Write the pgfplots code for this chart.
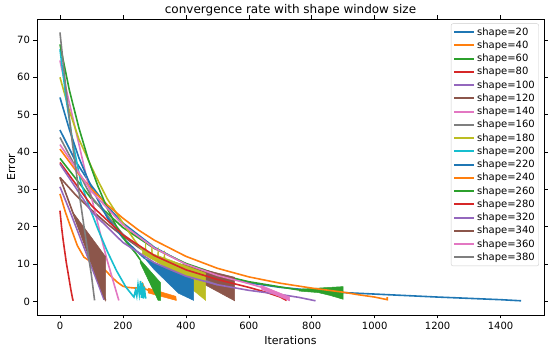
\documentclass[border=0pt]{standalone}
\usepackage{pgfplots}
\pgfplotsset{compat=1.18}
\usepackage{fontspec}
\setmainfont{DejaVu Sans}
\definecolor{C0}{HTML}{1F77B4}
\definecolor{C1}{HTML}{FF7F0E}
\definecolor{C2}{HTML}{2CA02C}
\definecolor{C3}{HTML}{D62728}
\definecolor{C4}{HTML}{9467BD}
\definecolor{C5}{HTML}{8C564B}
\definecolor{C6}{HTML}{E377C2}
\definecolor{C7}{HTML}{7F7F7F}
\definecolor{C8}{HTML}{BCBD22}
\definecolor{C9}{HTML}{17BECF}
\begin{document}
\begin{tikzpicture}
\path[use as bounding box] (0,0) rectangle (550pt,348pt);
\begin{axis}[
  at={(37pt,33pt)}, anchor=south west,
  scale only axis, width=507pt, height=296pt,
  xmin=-73, xmax=1538, ymin=-3.6, ymax=75.6,
  xtick={0,200,...,1400}, ytick={0,10,...,70},
  tick align=outside, major tick length=3.5pt,
  tick style={black, line width=0.6pt},
  axis line style={line width=0.7pt},
  tick label style={font=\fontsize{10}{12}\selectfont},
  /pgf/number format/assume math mode=true,
  /pgf/number format/set thousands separator={},
  title={convergence rate with shape window size},
  title style={font=\fontsize{12}{14}\selectfont, yshift=-7pt},
  xlabel={Iterations}, ylabel={Error},
  ylabel shift=-5pt,
  label style={font=\fontsize{11}{13}\selectfont},
  every axis plot/.append style={line width=1.6pt},
  legend cell align=left,
  legend image code/.code={\draw[#1, line width=2pt] (0pt,0pt) -- (20pt,0pt);},
  legend style={at={(0.99,0.985)}, anchor=north east, draw=black!20, rounded corners=2pt,
    font=\fontsize{10}{11}\selectfont, row sep=0.15pt, inner sep=2pt},
]
% shape=20
\addplot[C0] coordinates {(0,45.9) (50,37.5) (100,31) (150,25.5) (200,21) (300,14.5) (400,10) (500,7) (600,5) (700,3.8) (800,3.0) (900,2.4) (1000,2.0) (1100,1.6) (1200,1.2) (1300,0.85) (1400,0.5) (1465,0.2)};
\addlegendentry{shape=20}
% shape=40
\addplot[C1] coordinates {(0,28.8) (17,24) (34,19.9) (55,15) (76,11.9) (110,10) (145,8.3) (165,6.5) (182,5.2) (200,4.1) (214,3.8) (240,3.6) (255,3.8) (262,4.8) (270,3.4) (290,2.7) (320,2) (345,1.3) (368,0.5)};
\addlegendentry{shape=40}
\addplot[C1, fill=C1, line width=0.5pt, forget plot] coordinates {(280,3.6) (368,1.4) (370,0.3) (280,2.3)} -- cycle;
% shape=60
\addplot[C2] coordinates {(0,38.3) (100,27.5) (200,19.8) (300,14.2) (400,10.2) (500,7.3) (600,5.3) (700,3.9) (760,3.1) (830,2.8) (900,2.2)};
\addlegendentry{shape=60}
\addplot[C2, fill=C2, line width=0.5pt, forget plot] coordinates {(760,3.3) (820,3.6) (900,4.0) (900,0.6) (860,1.6) (820,2.4) (760,2.8)} -- cycle;
% shape=80
\addplot[C3] coordinates {(0,24.3) (5,20) (10,16.5) (15,13.5) (20,10.5) (25,8) (30,5.5) (35,3) (40,0.8) (42,0.2)};
\addlegendentry{shape=80}
% shape=100
\addplot[C4] coordinates {(0,30.7) (30,24.5) (60,18) (90,11.5) (120,5) (140,0.5)};
\addlegendentry{shape=100}
% shape=120
\addplot[C5] coordinates {(0,33.2) (50,28.5) (100,24.5) (150,20.8) (200,17.5) (250,14.5) (300,11.8)};
\addlegendentry{shape=120}
\addplot[C5, fill=C5, line width=0.5pt, forget plot] coordinates {(300,11.8) (555,6.5) (555,0.2)} -- cycle;
% shape=140
\addplot[C6] coordinates {(0,64.5) (22,56) (44,48) (66,40) (88,32) (110,24.5) (130,17.5) (150,11) (170,5.2) (187,0.3)};
\addlegendentry{shape=140}
% shape=160
\addplot[C7] coordinates {(0,43.9) (100,28) (200,18) (300,11.5) (400,7.5) (500,4.5)};
\addlegendentry{shape=160}
% shape=180
\addplot[C8] coordinates {(0,60) (30,51) (60,43.5) (100,36) (123,32) (150,27.5) (200,21) (240,16) (262,13.8)};
\addlegendentry{shape=180}
\addplot[C8, fill=C8, line width=0.5pt, forget plot] coordinates {(262,13.8) (270,13.5) (272,16) (274,13.3) (290,12.9) (292,15.5) (294,12.8) (310,12.3) (312,14.6) (314,12.2) (330,11.7) (332,13.6) (334,11.6) (463,7.6) (463,0.3) (330,9.5) (262,12.8)} -- cycle;
% shape=200
\addplot[C9] coordinates {(0,67.5) (20,54) (40,43) (66,32) (90,26) (120,19.5) (150,13.5) (180,8.2) (210,3.8) (235,1.2) (240,3) (244,1.5) (248,4.5) (252,2) (256,5.5) (259,1) (262,5) (265,0.8) (268,4) (271,1.5) (273,0.8)};
\addlegendentry{shape=200}
% shape=220
\addplot[C0] coordinates {(0,54.6) (30,46) (60,38.5) (100,30.5) (150,22.5) (200,17) (250,13) (270,11.5)};
\addlegendentry{shape=220}
\addplot[C0, fill=C0, line width=0.5pt, forget plot] coordinates {(270,11.5) (350,8.3) (425,5.8) (425,0.3) (377,2.2) (300,8.5)} -- cycle;
% shape=240
\addplot[C1] coordinates {(0,40.8) (50,35.1) (100,30.1) (150,25.9) (200,22.3) (250,19.1) (300,16.4) (400,12.1) (500,8.9) (600,6.6) (700,4.9) (800,3.6) (900,2.5) (950,1.8) (1000,1.2) (1040,0.5) (1040,1.2)};
\addlegendentry{shape=240}
% shape=260
\addplot[C2] coordinates {(0,68.8) (30,56.5) (60,46.5) (90,38) (120,31) (150,25) (180,20) (210,16) (240,13) (255,11.2)};
\addlegendentry{shape=260}
\addplot[C2, fill=C2, line width=0.5pt, forget plot] coordinates {(255,11.2) (320,5) (320,0.3) (312,0.3) (255,10.3)} -- cycle;
% shape=280
\addplot[C3] coordinates {(0,37.2) (100,25.7) (200,17.8) (300,12.3) (400,8.5) (500,5.9) (600,3.8) (650,2.6) (700,1.2) (720,0.3)};
\addlegendentry{shape=280}
% shape=320
\addplot[C4] coordinates {(0,36.8) (100,24.1) (200,15.8) (300,10.4) (400,6.8) (500,4.5) (600,3.0) (700,1.9) (760,1.1) (812,0.2)};
\addlegendentry{shape=320}
% shape=340
\addplot[C5] coordinates {(0,33.2) (40,24) (145,0.3)};
\addlegendentry{shape=340}
\addplot[C5, fill=C5, line width=0.5pt, forget plot] coordinates {(0,33.2) (40,24) (145,12) (145,0.3)} -- cycle;
% shape=360
\addplot[C6] coordinates {(0,42) (100,29.5) (200,20.5) (300,14.3) (400,10) (500,7) (600,4.8) (650,3.6) (700,2) (730,0.3)};
\addlegendentry{shape=360}
\addplot[C6, fill=C6, line width=0.5pt, forget plot] coordinates {(640,4.3) (730,1.2) (730,0.2) (640,3.3)} -- cycle;
% shape=380
\addplot[C7] coordinates {(0,72) (20,56) (40,42) (60,29.5) (80,18) (100,7) (110,0.3)};
\addlegendentry{shape=380}
\end{axis}
\end{tikzpicture}
\end{document}
